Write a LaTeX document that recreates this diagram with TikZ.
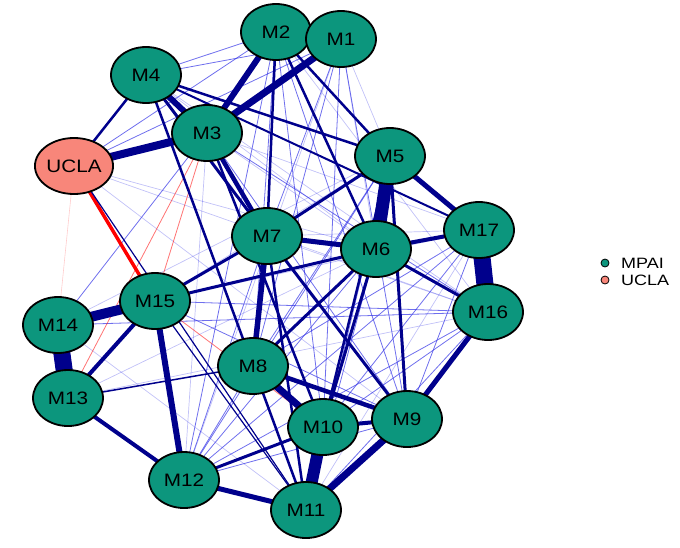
\documentclass[tikz,border=0pt]{standalone}
\usepackage{fontspec}
\usepackage{graphicx}
\setmainfont{Liberation Sans}
\usetikzlibrary{shapes.geometric}
\pgfdeclarelayer{bg}
\pgfsetlayers{bg,main}
\definecolor{nodeteal}{RGB}{12,150,125}
\definecolor{nodesalmon}{RGB}{248,134,122}
\definecolor{navyblue}{RGB}{0,0,140}
\definecolor{lineblue}{RGB}{50,50,230}
\newcommand\lbl[1]{\scalebox{1.15}[1]{#1}}
\newcommand\cnx[3]{\begin{pgfonlayer}{bg}\draw[#1] (#2.center) -- (#3.center);\end{pgfonlayer}}
\tikzset{
  mnode/.style={ellipse, draw=black, line width=1.8pt, fill=nodeteal, minimum width=70pt, minimum height=56pt, inner sep=0pt, font=\fontsize{18}{18}\selectfont},
  unode/.style={mnode, fill=nodesalmon},
  nv/.style={draw=navyblue, line width=#1},
  tb/.style={draw=lineblue, line width=0.8pt, opacity=0.7},
  fb/.style={draw=lineblue, line width=0.7pt, opacity=0.3},
  rd/.style={draw=red, line width=#1},
  frd/.style={draw=red, line width=0.8pt, opacity=0.55},
  legdot/.style={circle, draw=black, line width=0.8pt, minimum size=8pt, inner sep=0pt},
  legtext/.style={anchor=west, font=\fontsize{15}{15}\selectfont, inner sep=0pt}
}
\begin{document}
\begin{tikzpicture}[x=1pt,y=-1pt]
\useasboundingbox (0,0) rectangle (680,547);
% nodes
\node[mnode] (M2) at (276,32) {\lbl{M2}};
\node[mnode] (M1) at (341,39) {\lbl{M1}};
\node[mnode] (M4) at (146,75) {\lbl{M4}};
\node[mnode] (M3) at (207,133) {\lbl{M3}};
\node[unode] (UCLA) at (74,166) {\lbl{UCLA}};
\node[mnode] (M5) at (390,156) {\lbl{M5}};
\node[mnode] (M7) at (267,236) {\lbl{M7}};
\node[mnode] (M6) at (376,249) {\lbl{M6}};
\node[mnode] (M17) at (479,230) {\lbl{M17}};
\node[mnode] (M16) at (488,312) {\lbl{M16}};
\node[mnode] (M15) at (155,301) {\lbl{M15}};
\node[mnode] (M14) at (58,325) {\lbl{M14}};
\node[mnode] (M13) at (68,398) {\lbl{M13}};
\node[mnode] (M8) at (253,366) {\lbl{M8}};
\node[mnode] (M12) at (184,480) {\lbl{M12}};
\node[mnode] (M11) at (306,510) {\lbl{M11}};
\node[mnode] (M10) at (323,427) {\lbl{M10}};
\node[mnode] (M9) at (407,419) {\lbl{M9}};
% faint edges
\cnx{fb}{UCLA}{M6}
\cnx{fb}{UCLA}{M9}
\cnx{fb}{UCLA}{M16}
\cnx{fb}{M14}{M11}
\cnx{fb}{M1}{M5}
\cnx{fb}{M3}{M17}
\cnx{fb}{M4}{M16}
\cnx{fb}{M5}{M14}
\cnx{fb}{M5}{M15}
\cnx{fb}{M13}{M16}
\cnx{fb}{M7}{M16}
\cnx{fb}{M7}{M17}
\cnx{fb}{M11}{M17}
\cnx{fb}{M4}{M6}
\cnx{fb}{M3}{M6}
\cnx{fb}{M2}{M16}
\cnx{fb}{M3}{M12}
\cnx{fb}{M1}{M12}
\cnx{fb}{M6}{M13}
\cnx{fb}{M15}{M17}
\cnx{fb}{M1}{M6}
% thin blue edges
\cnx{tb}{M1}{M10}
\cnx{tb}{M1}{M9}
\cnx{tb}{M2}{M10}
\cnx{tb}{M1}{M7}
\cnx{tb}{M1}{M8}
\cnx{tb}{M2}{M8}
\cnx{tb}{M2}{M4}
\cnx{tb}{M1}{M4}
\cnx{tb}{UCLA}{M1}
\cnx{tb}{UCLA}{M2}
\cnx{tb}{M12}{M7}
\cnx{tb}{M12}{M6}
\cnx{tb}{M12}{M5}
\cnx{tb}{M12}{M17}
\cnx{tb}{M12}{M16}
\cnx{tb}{M12}{M9}
\cnx{tb}{M12}{M8}
\cnx{tb}{M12}{M2}
\cnx{tb}{M15}{M16}
\cnx{tb}{M14}{M16}
\cnx{tb}{M14}{M3}
\cnx{tb}{M17}{M10}
\cnx{tb}{M17}{M8}
\cnx{tb}{M16}{M10}
\cnx{tb}{M16}{M11}
\cnx{tb}{M9}{M17}
\cnx{tb}{M9}{M2}
\cnx{tb}{M6}{M11}
\cnx{tb}{M5}{M11}
\cnx{tb}{M3}{M16}
\cnx{tb}{M3}{M9}
\cnx{tb}{M15}{M9}
\cnx{tb}{M8}{M5}
% red edges
\cnx{rd=3.5pt}{UCLA}{M15}
\cnx{frd}{M3}{M15}
\cnx{frd}{M3}{M13}
\cnx{frd}{M15}{M10}
\cnx{draw=red, line width=0.6pt, opacity=0.2}{UCLA}{M14}
% navy edges
\cnx{nv=8pt}{UCLA}{M3}
\cnx{nv=2.5pt}{UCLA}{M4}
\cnx{nv=1.2pt}{UCLA}{M11}
\cnx{nv=6pt}{M2}{M3}
\cnx{nv=7pt}{M1}{M3}
\cnx{nv=6pt}{M4}{M3}
\cnx{nv=4.5pt}{M3}{M7}
\cnx{nv=3pt}{M4}{M7}
\cnx{nv=2.5pt}{M4}{M8}
\cnx{nv=2.5pt}{M4}{M5}
\cnx{nv=2pt}{M4}{M17}
\cnx{nv=2.5pt}{M2}{M7}
\cnx{nv=2.5pt}{M2}{M6}
\cnx{nv=2.5pt}{M2}{M5}
\cnx{nv=13pt}{M5}{M6}
\cnx{nv=17pt}{M17}{M16}
\cnx{nv=5pt}{M5}{M17}
\cnx{nv=4pt}{M6}{M17}
\cnx{nv=3pt}{M6}{M16}
\cnx{nv=5pt}{M7}{M6}
\cnx{nv=5.5pt}{M7}{M8}
\cnx{nv=3pt}{M7}{M5}
\cnx{nv=3pt}{M7}{M15}
\cnx{nv=3pt}{M7}{M9}
\cnx{nv=2.5pt}{M7}{M11}
\cnx{nv=3pt}{M15}{M6}
\cnx{nv=10pt}{M15}{M14}
\cnx{nv=17pt}{M14}{M13}
\cnx{nv=4pt}{M15}{M13}
\cnx{nv=6pt}{M15}{M12}
\cnx{nv=4pt}{M13}{M12}
\cnx{nv=5pt}{M12}{M11}
\cnx{nv=3pt}{M12}{M10}
\cnx{nv=12pt}{M11}{M10}
\cnx{nv=7pt}{M11}{M9}
\cnx{nv=7pt}{M8}{M10}
\cnx{nv=4.5pt}{M8}{M9}
\cnx{nv=4pt}{M10}{M9}
\cnx{nv=5pt}{M9}{M16}
\cnx{nv=3pt}{M5}{M9}
\cnx{nv=3pt}{M6}{M8}
\cnx{nv=3pt}{M6}{M10}
\cnx{nv=2.5pt}{M5}{M10}
\cnx{nv=2.5pt}{M8}{M11}
\cnx{nv=1.5pt}{M13}{M8}
\cnx{nv=1.2pt}{M15}{M11}
\cnx{nv=2.5pt}{M3}{M10}
% legend
\node[legdot, fill=nodeteal] (dA) at (605,263) {};
\node[legdot, fill=nodesalmon] (dB) at (605,280) {};
\node[legtext] (tA) at (621,263) {\scalebox{1.2}[1]{MPAI}};
\node[legtext] (tB) at (621,280) {\scalebox{1.2}[1]{UCLA}};
\end{tikzpicture}
\end{document}
